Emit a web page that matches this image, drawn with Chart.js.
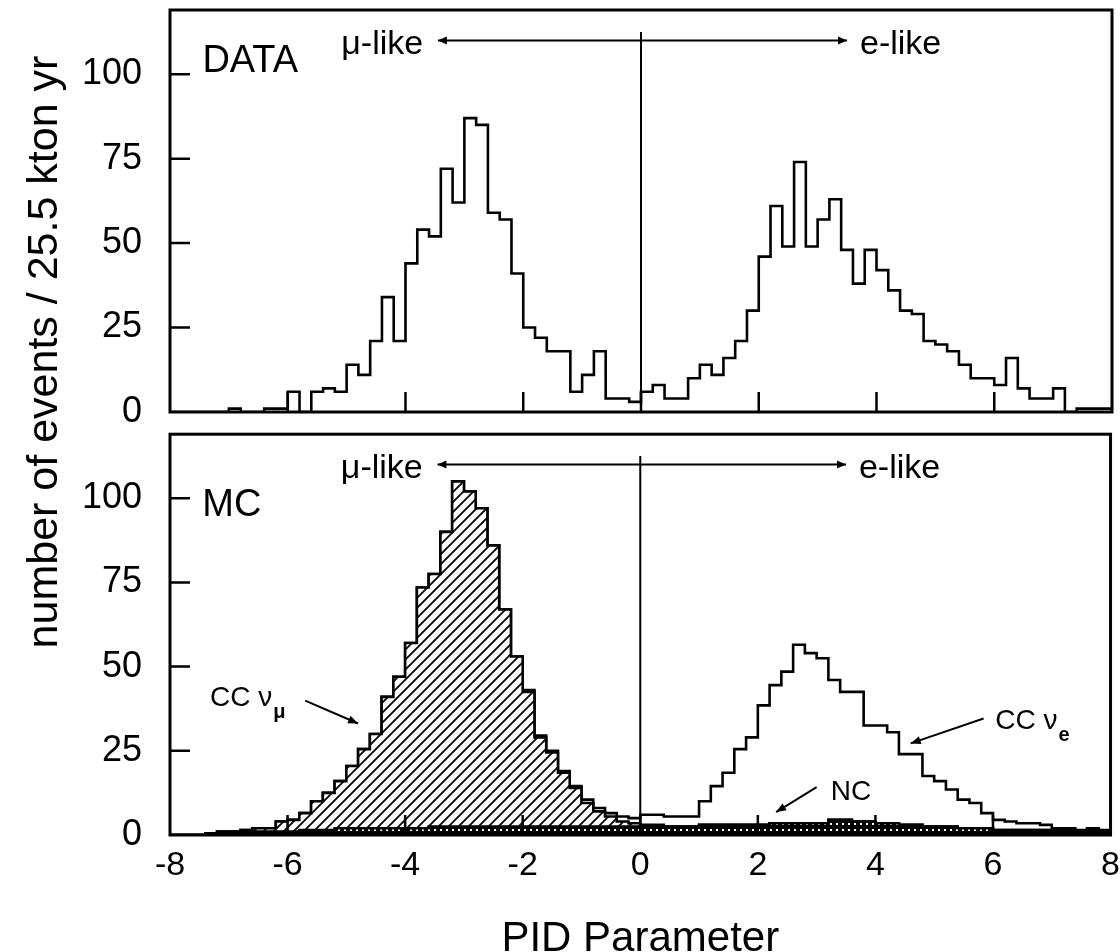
<!DOCTYPE html>
<html>
<head>
<meta charset="utf-8">
<script src="https://cdn.jsdelivr.net/npm/chart.js@4.4.0/dist/chart.umd.min.js"></script>
<style>
html, body { margin: 0; padding: 0; background: #fff; overflow: hidden; }
#wrap { position: relative; width: 1120px; height: 952px; overflow: hidden; background: #fff; }
#top { position: absolute; left: 0; top: 0; }
#bot { position: absolute; left: 0; top: 425px; }
#ytitle { position: absolute; left: -302px; top: 322px; width: 700px; height: 60px; line-height: 60px;
  text-align: center; transform: rotate(-90deg); color: #000; white-space: nowrap;
  font: 43px 'Liberation Sans', Arial, sans-serif; }
</style>
</head>
<body>
<div id="wrap">
  <canvas id="top" width="1120" height="425"></canvas>
  <canvas id="bot" width="1120" height="540"></canvas>
  <div id="ytitle">number of events / 25.5 kton yr</div>
</div>
<script>
// histogram binning: 80 bins of 0.2 from -8 to 8
var binStart = -8, binWidth = 0.2;

// DATA panel, counts per bin
var dataCounts = [
  0, 0, 0, 0, 0, 1, 0, 0, 1, 1,
  6, 0, 6, 7, 6, 14, 11, 21, 34, 21,
  44, 54, 52, 72, 62, 87, 85, 59, 57, 41,
  25, 22, 18, 18, 6, 11, 18, 4, 4, 3,
  6, 8, 4, 4, 10, 14, 11, 16, 21, 30,
  46, 61, 49, 74, 49, 57, 63, 48, 38, 48,
  42, 36, 30, 29, 21, 20, 18, 14, 10, 10,
  8, 16, 7, 4, 4, 7, 0, 1, 1, 1
];

// MC panel, stacked: NC, CC nu_mu (hatched), CC nu_e (open)
var mcNC = [
  0, 0, 0, 0, 0.5, 0.5, 1, 1, 1, 1,
  1, 1.5, 1.5, 1.5, 2, 2, 2, 2, 2, 2,
  2, 2, 2.5, 2.5, 2.5, 2.5, 2.5, 2.5, 2.5, 2.5,
  2.5, 2.5, 2.5, 2.5, 2.5, 2.5, 2.5, 2.5, 2.5, 2.5,
  2.5, 2.5, 2.5, 2.5, 2.5, 3, 3, 3, 3, 3,
  3, 3.5, 3.5, 3.5, 3.5, 3.5, 4.5, 4.5, 4, 4,
  3.5, 3.5, 3, 3, 2.5, 2.5, 2.5, 2, 2, 2,
  1.5, 1.5, 1.5, 1.5, 1.5, 1.5, 1.5, 1, 1.5, 1
];
var mcCCnumu = [
  0, 0, 0, 0.5, 0.5, 0.5, 0.5, 1, 1, 3,
  3.5, 5, 8.5, 11, 14, 18.5, 23.5, 28, 39, 45,
  55, 71.5, 75, 87.5, 102.5, 99.5, 94.5, 83.5, 64.5, 50.5,
  40, 26.5, 22, 16, 11.5, 7, 4.5, 3, 1.5, 1,
  0.5, 0.5, 0, 0, 0, 0, 0, 0, 0, 0,
  0, 0, 0, 0, 0, 0, 0, 0, 0, 0,
  0, 0, 0, 0, 0, 0, 0, 0, 0, 0,
  0, 0, 0, 0, 0, 0, 0, 0, 0, 0
];
var mcCCnue = [
  0, 0, 0, 0, 0, 0, 0, 0, 0, 0,
  0, 0, 0, 0, 0, 0, 0, 0, 0, 0,
  0, 0, 0, 0, 0, 0, 0, 0, 0, 0,
  0.5, 0.5, 0.5, 0.5, 0.5, 1, 1, 1, 1.5, 1.5,
  3, 3, 3, 3, 3, 7, 11.5, 15.5, 22.5, 26,
  35.5, 41, 45, 53, 50.5, 49, 41.5, 38, 38.5, 28.5,
  29, 27, 21, 21, 15, 13.5, 11, 8.5, 7.5, 4.5,
  3, 2.5, 2, 2, 1.5, 0.5, 0.5, 0.5, 0.5, 0.5
];

var xMin = -8, xMax = 8, xStep = 2;
var yMin = 0, yMax = 119, yStep = 25;

// annotation positions (data units)
var arrowY = 110, dividerTop = 112.5, arrowLeft = -3.45, arrowRight = 3.5;
var mcNotes = [
  { text: 'CC ν', sub: 'μ', x: -7.32, y: 38.4, from: [-5.7, 39.9], to: [-4.8, 33.1] },
  { text: 'CC ν', sub: 'e', x: 6.04, y: 31.6, from: [5.84, 34.6], to: [4.6, 27.2] },
  { text: 'NC', x: 3.24, y: 10.3, from: [3.0, 14.2], to: [2.31, 6.8] }
];

var sans = "'Liberation Sans', Arial, sans-serif";

function steps(counts) {
  var pts = counts.map(function(c, i) {
    return { x: Math.round((binStart + i * binWidth) * 100) / 100, y: c };
  });
  pts.push({ x: Math.round((binStart + counts.length * binWidth) * 100) / 100, y: counts[counts.length - 1] });
  return pts;
}

function makePattern(draw, w, h) {
  var c = document.createElement('canvas');
  c.width = w; c.height = h;
  draw(c.getContext('2d'));
  return c.getContext('2d').createPattern(c, 'repeat');
}

var hatch = makePattern(function(g) {
  g.fillStyle = '#fff'; g.fillRect(0, 0, 10, 10);
  g.strokeStyle = '#000'; g.lineWidth = 1.8;
  g.beginPath();
  g.moveTo(-1, 11); g.lineTo(11, -1);
  g.moveTo(-1, 1); g.lineTo(1, -1);
  g.moveTo(9, 11); g.lineTo(11, 9);
  g.stroke();
}, 10, 10);

var dots = makePattern(function(g) {
  g.fillStyle = '#000'; g.fillRect(0, 0, 6, 6);
  g.fillStyle = '#fff'; g.fillRect(2, 2, 2, 2);
}, 6, 6);

function head(ctx, tx, ty, fx, fy, len, hw) {
  var a = Math.atan2(ty - fy, tx - fx);
  ctx.beginPath();
  ctx.moveTo(tx, ty);
  ctx.lineTo(tx - len * Math.cos(a) + hw * Math.sin(a), ty - len * Math.sin(a) - hw * Math.cos(a));
  ctx.lineTo(tx - len * Math.cos(a) - hw * Math.sin(a), ty - len * Math.sin(a) + hw * Math.cos(a));
  ctx.closePath();
  ctx.fill();
}

var framePlugin = {
  id: 'frame',
  afterDatasetsDraw: function(chart, args, o) {
    var ctx = chart.ctx, a = chart.chartArea, xs = chart.scales.x, ys = chart.scales.y;
    function X(v) { return xs.getPixelForValue(v); }
    function Y(v) { return ys.getPixelForValue(v); }
    ctx.save();
    ctx.strokeStyle = '#000';
    ctx.fillStyle = '#000';

    // inward tick marks
    ctx.lineWidth = 2.5;
    ctx.beginPath();
    xs.ticks.forEach(function(t) {
      if (t.value > xs.min && t.value < xs.max) { ctx.moveTo(X(t.value), a.bottom); ctx.lineTo(X(t.value), a.bottom - 20); }
    });
    ys.ticks.forEach(function(t) {
      if (t.value > ys.min) { ctx.moveTo(a.left, Y(t.value)); ctx.lineTo(a.left + 20, Y(t.value)); }
    });
    ctx.stroke();

    // divider at 0 and mu-like / e-like arrow
    ctx.lineWidth = 2;
    ctx.beginPath();
    ctx.moveTo(X(0), Y(dividerTop)); ctx.lineTo(X(0), a.bottom);
    ctx.moveTo(X(arrowLeft), Y(arrowY)); ctx.lineTo(X(arrowRight), Y(arrowY));
    ctx.stroke();
    head(ctx, X(arrowLeft), Y(arrowY), X(arrowLeft) + 10, Y(arrowY), 9, 4);
    head(ctx, X(arrowRight), Y(arrowY), X(arrowRight) - 10, Y(arrowY), 9, 4);

    ctx.textBaseline = 'alphabetic';
    ctx.font = '34px ' + sans;
    ctx.textAlign = 'right';
    ctx.fillText('μ-like', X(-3.7), Y(106));
    ctx.textAlign = 'left';
    ctx.fillText('e-like', X(3.72), Y(106));

    ctx.font = '38px ' + sans;
    ctx.fillText(o.label, X(-7.45), Y(o.labelY));

    (o.notes || []).forEach(function(n) {
      ctx.lineWidth = 2;
      ctx.beginPath();
      ctx.moveTo(X(n.from[0]), Y(n.from[1]));
      ctx.lineTo(X(n.to[0]), Y(n.to[1]));
      ctx.stroke();
      head(ctx, X(n.to[0]), Y(n.to[1]), X(n.from[0]), Y(n.from[1]), 10, 4);
      ctx.font = '28px ' + sans;
      ctx.fillText(n.text, X(n.x), Y(n.y));
      if (n.sub) {
        var w = ctx.measureText(n.text).width;
        ctx.font = 'bold 20px ' + sans;
        ctx.fillText(n.sub, X(n.x) + w + 1, Y(n.y) + 12);
      }
    });

    ctx.lineWidth = 3;
    ctx.strokeRect(a.left, a.top, a.right - a.left, a.bottom - a.top);
    ctx.restore();
  }
};

function makeScales(showX, xHeight, stacked) {
  return {
    x: {
      type: 'linear', min: xMin, max: xMax,
      grid: { display: false, drawTicks: true, tickLength: 10 },
      border: { display: false },
      ticks: { display: showX, stepSize: xStep, padding: 0, maxRotation: 0,
        font: { family: sans, size: 34 }, color: '#000' },
      title: { display: showX, text: 'PID Parameter', color: '#000',
        font: { family: sans, size: 42 }, padding: { top: 7, bottom: 0 } },
      afterFit: function(s) { s.height = xHeight; }
    },
    y: {
      min: yMin, max: yMax, stacked: stacked,
      grid: { display: false, drawTicks: true, tickLength: 26 },
      border: { display: false },
      ticks: { stepSize: yStep, includeBounds: false, padding: 2,
        font: { family: sans, size: 36, lineHeight: 0.4 }, color: '#000' },
      afterFit: function(s) { s.width = 170; }
    }
  };
}

var baseLine = { stepped: true, pointRadius: 0, borderColor: '#000', borderWidth: 2.6, tension: 0 };

new Chart(document.getElementById('top'), {
  type: 'line',
  data: {
    datasets: [Object.assign({ label: 'DATA', data: steps(dataCounts), fill: false }, baseLine)]
  },
  options: {
    responsive: false, animation: false,
    layout: { autoPadding: false, padding: { top: 10, right: 8, left: 0, bottom: 0 } },
    scales: makeScales(false, 13, false),
    plugins: { legend: { display: false }, tooltip: { enabled: false },
      frame: { label: 'DATA', labelY: 100.6 } }
  },
  plugins: [framePlugin]
});

new Chart(document.getElementById('bot'), {
  type: 'line',
  data: {
    datasets: [
      Object.assign({ label: 'NC', data: steps(mcNC), fill: 'origin', backgroundColor: dots }, baseLine),
      Object.assign({ label: 'CC numu', data: steps(mcCCnumu), fill: '-1', backgroundColor: hatch }, baseLine),
      Object.assign({ label: 'CC nue', data: steps(mcCCnue), fill: false }, baseLine)
    ]
  },
  options: {
    responsive: false, animation: false,
    layout: { autoPadding: false, padding: { top: 8, right: 8, left: 0, bottom: 0 } },
    scales: makeScales(true, 130, true),
    plugins: { legend: { display: false }, tooltip: { enabled: false },
      frame: { label: 'MC', labelY: 94.6, notes: mcNotes } }
  },
  plugins: [framePlugin]
});
</script>
</body>
</html>
